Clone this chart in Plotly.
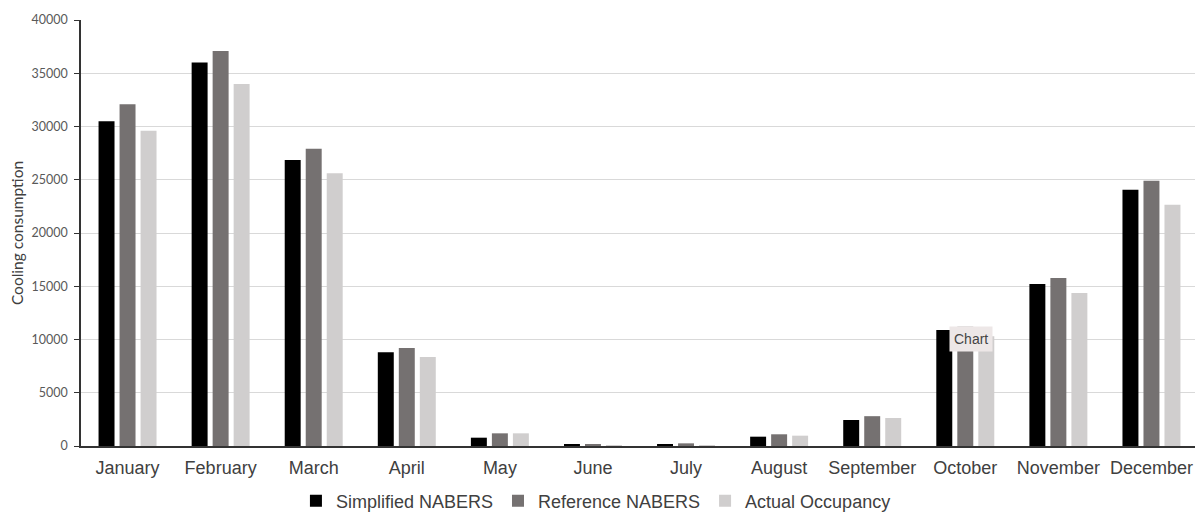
import plotly.graph_objects as go

months = ["January", "February", "March", "April", "May", "June", "July",
          "August", "September", "October", "November", "December"]
simplified = [30500, 36000, 26850, 8800, 780, 190, 160, 875, 2440, 10900, 15200, 24050]
reference = [32100, 37100, 27900, 9200, 1190, 130, 250, 1100, 2800, 11200, 15770, 24900]
actual = [29600, 34000, 25600, 8350, 1190, 80, 50, 970, 2630, 10300, 14370, 22650]

series = [
    ("Simplified NABERS", simplified, "#000000"),
    ("Reference NABERS", reference, "#757171"),
    ("Actual Occupancy", actual, "#d0cece"),
]

fig = go.Figure()
for name, vals, col in series:
    fig.add_trace(go.Bar(x=months, y=vals, name=name,
                         marker=dict(color=col, line=dict(width=0))))

fig.update_layout(
    width=1195, height=506,
    paper_bgcolor="white", plot_bgcolor="white",
    margin=dict(l=73, r=5, t=12, b=68, autoexpand=False),
    barmode="group", bargap=0.323, bargroupgap=0.24,
    font=dict(family="Liberation Sans, Arial, sans-serif", color="#404040"),
    legend=dict(orientation="h", x=0.461, xanchor="center", y=-0.129, yanchor="middle",
                font=dict(size=18, color="#404040"),
                traceorder="normal", tracegroupgap=0),
    annotations=[dict(text="Chart", xref="paper", yref="paper",
                      x=0.797, y=0.251, xanchor="center", yanchor="middle",
                      showarrow=False,
                      font=dict(size=14, color="#444444", family="Liberation Sans, Arial"),
                      bgcolor="#ede7e7", borderpad=4)],
)
fig.update_xaxes(showline=True, linecolor="#333333", linewidth=1.5,
                 tickfont=dict(size=18, color="#404040"), ticks="",
                 ticklabelstandoff=5,
                 showgrid=False, automargin=False)
fig.update_yaxes(range=[0, 40000], dtick=5000, showline=True, linecolor="#333333",
                 linewidth=1.5, ticks="outside", ticklen=5, tickcolor="#333333",
                 gridcolor="#d9d9d9", gridwidth=1, zeroline=False, automargin=False,
                 ticklabelstandoff=4,
                 tickfont=dict(size=12.5, color="#595959", family="Lato, sans-serif"),
                 tickformat="d",
                 title=dict(text="Cooling consumption", standoff=10,
                            font=dict(size=15.5, color="#404040", family="Lato, sans-serif")))

fig.write_html("out.html")
